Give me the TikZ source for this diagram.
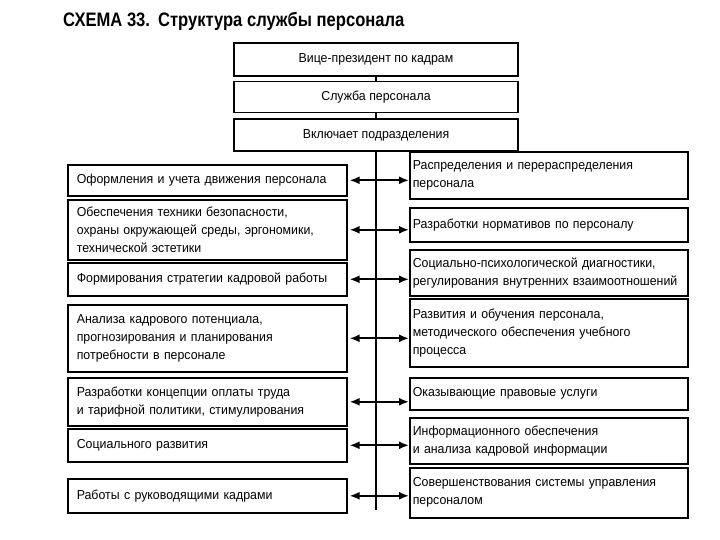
\documentclass[tikz,border=0pt]{standalone}
\usepackage{fontspec}
\setmainfont[FakeStretch=0.95]{Liberation Sans}
\newfontfamily\titlefont[FakeStretch=0.85]{Liberation Sans}
\usetikzlibrary{arrows.meta, positioning}

\begin{document}
\begin{tikzpicture}[
    x=1pt, y=-1pt,
    font=\fontsize{13}{18}\selectfont,
    >={Latex[length=10pt, width=8pt]},
    head/.style={draw, line width=1.6pt, minimum width=284pt, inner sep=2pt},
    unit/.style={draw, line width=1.6pt, anchor=north west, align=left, inner ysep=2pt, minimum height=#1},
    lunit/.style={unit=#1, inner xsep=9pt, text width=261pt},
    runit/.style={unit=#1, inner xsep=3pt, text width=272pt},
    link/.style={<->, line width=1.8pt},
    trunk/.style={line width=1.8pt},
  ]
  \useasboundingbox (0,0) rectangle (720,540);
  % ---- title
  \node[anchor=base west, inner sep=0pt, font=\titlefont\bfseries\fontsize{19.5}{22}\selectfont] (title) at (63,27) {СХЕМА 33.\hspace{8pt}Структура службы персонала};
  % ---- top of the chain
  \node[head, minimum height=33pt] (vp) at (376,59.5) {Вице-президент по кадрам};
  \node[head, minimum height=31pt, below=4pt of vp] (srv) {Служба персонала};
  \node[head, minimum height=32pt, below=5pt of srv] (inc) {Включает подразделения};
  % ---- left column
  \node[lunit=31pt] (L1) at (67,164) {Оформления и учета движения персонала};
  \node[lunit=60pt] (L2) at (67,199) {Обеспечения техники безопасности,\\ охраны окружающей среды, эргономики,\\ технической эстетики};
  \node[lunit=33pt] (L3) at (67,262) {Формирования стратегии кадровой работы};
  \node[lunit=67pt] (L4) at (67,304) {Анализа кадрового потенциала,\\ прогнозирования и планирования\\ потребности в персонале};
  \node[lunit=48pt] (L5) at (67,377) {Разработки концепции оплаты труда\\ и тарифной политики, стимулирования};
  \node[lunit=33pt] (L6) at (67,428) {Социального развития};
  \node[lunit=34pt] (L7) at (67,478) {Работы с руководящими кадрами};
  % ---- right column
  \node[runit=47pt] (R1) at (409,151) {Распределения и перераспределения\\ персонала};
  \node[runit=34pt] (R2) at (409,207) {Разработки нормативов по персоналу};
  \node[runit=46pt] (R3) at (409,249) {Социально-психологической диагностики,\\ регулирования внутренних взаимоотношений};
  \node[runit=68pt] (R4) at (409,298) {Развития и обучения персонала,\\ методического обеспечения учебного\\ процесса};
  \node[runit=32pt] (R5) at (409,377) {Оказывающие правовые услуги};
  \node[runit=46pt] (R6) at (409,417) {Информационного обеспечения\\ и анализа кадровой информации};
  \node[runit=50pt] (R7) at (409,467) {Совершенствования системы управления\\ персоналом};
  % ---- connectors
  \draw[trunk] (vp) -- (srv);
  \draw[trunk] (srv) -- (inc);
  \draw[trunk] (inc.south) -- ([yshift=-14pt]inc.south |- L7.east);
  \draw[link] ([xshift=2pt]L1.east) -- (L1.east -| R1.west);
  \draw[link] ([xshift=2pt]L2.east) -- (L2.east -| R2.west);
  \draw[link] ([xshift=2pt]L3.east) -- (L3.east -| R3.west);
  \draw[link] ([xshift=2pt]L4.east) -- (L4.east -| R4.west);
  \draw[link] ([xshift=2pt]L5.east) -- (L5.east -| R5.west);
  \draw[link] ([xshift=2pt]L6.east) -- (L6.east -| R6.west);
  \draw[link] ([xshift=2pt]L7.east) -- (L7.east -| R7.west);
\end{tikzpicture}
\end{document}
